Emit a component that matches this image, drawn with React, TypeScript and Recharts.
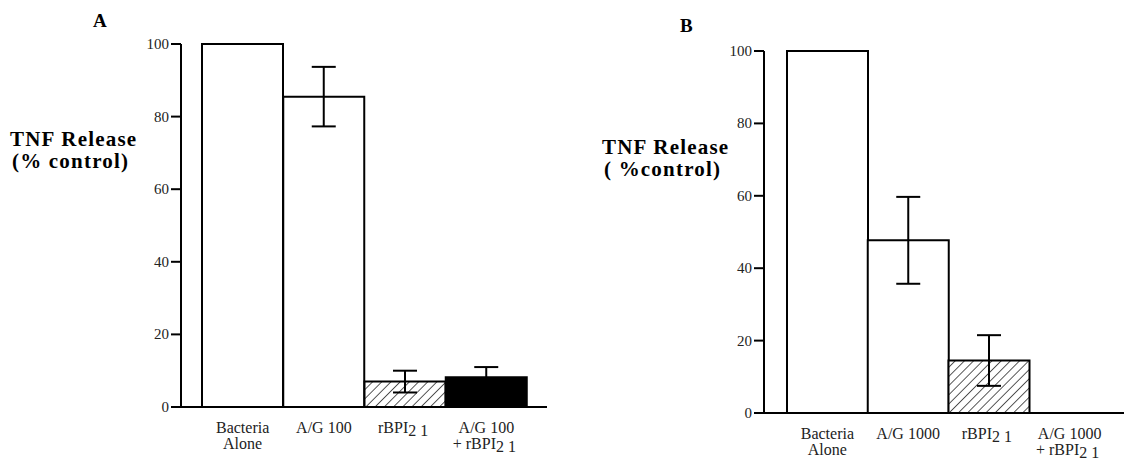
import { BarChart, Bar, XAxis, YAxis, ErrorBar, Cell } from "recharts";

// panel A
const categoriesA = ["Bacteria\nAlone", "A/G 100", "rBPI_21", "A/G 100\n+ rBPI_21"];
const valuesA = [100, 85.5, 7, 8.2];
const errorsA = [0, 8.2, 3, 2.8];

// panel B
const categoriesB = ["Bacteria\nAlone", "A/G 1000", "rBPI_21", "A/G 1000\n+ rBPI_21"];
const valuesB = [100, 47.7, 14.5, 0];
const errorsB = [0, 12, 7, 0];

const yTicks = [0, 20, 40, 60, 80, 100];

const SERIF = "Liberation Serif, Times New Roman, serif";

function CatTick({ x, y, payload }: any) {
  const lines = String(payload.value).split("\n");
  return (
    <g>
      {lines.map((line, i) => {
        const [main, sub] = line.split("_");
        return (
          <text
            key={i}
            x={x}
            y={y + 18 + i * 16}
            textAnchor="middle"
            style={{ fontFamily: SERIF, fontSize: 16 }}
            fill="#222"
          >
            {main}
            {sub && (
              <tspan dy={3} letterSpacing={4}>
                {sub}
              </tspan>
            )}
          </text>
        );
      })}
    </g>
  );
}

function NumTick({ x, y, payload }: any) {
  return (
    <text x={x} y={y} dy={5} textAnchor="end" style={{ fontFamily: SERIF, fontSize: 15 }} fill="#222">
      {payload.value}
    </text>
  );
}

function Panel({ id, categories, values, errors, width, margin, padding, letter, letterX, letterY, sub, labelX, labelY }: any) {
  const data = categories.map((c: string, i: number) => ({
    name: c,
    value: values[i],
    err: errors[i],
  }));
  const fills = ["#fff", "#fff", `url(#hatch${id})`, "#000"];
  const bold = { fontFamily: SERIF, fontWeight: "bold" as const, fontSize: 21, letterSpacing: 1.2 };
  return (
    <BarChart width={width} height={462} data={data} margin={margin} barCategoryGap={0}>
      <defs>
        <pattern id={`hatch${id}`} patternUnits="userSpaceOnUse" width={6.5} height={6.5} patternTransform="rotate(45)">
          <rect width={6.5} height={6.5} fill="#fff" />
          <line x1={0} y1={0} x2={0} y2={6.5} stroke="#000" strokeWidth={1.3} />
        </pattern>
      </defs>
      <XAxis
        dataKey="name"
        interval={0}
        tickLine={false}
        axisLine={{ stroke: "#000", strokeWidth: 2 }}
        padding={padding}
        height={48}
        tick={<CatTick />}
      />
      <YAxis
        domain={[0, 100]}
        ticks={yTicks}
        width={60}
        tickSize={10}
        tickLine={{ stroke: "#000", strokeWidth: 2 }}
        axisLine={{ stroke: "#000", strokeWidth: 2 }}
        tick={<NumTick />}
      />
      <Bar dataKey="value" stroke="#000" strokeWidth={2} isAnimationActive={false}>
        {data.map((_: any, i: number) => (
          <Cell key={i} fill={fills[i]} />
        ))}
        <ErrorBar dataKey="err" direction="y" width={12} stroke="#000" strokeWidth={2} />
      </Bar>
      <text x={letterX} y={letterY} style={{ fontFamily: SERIF, fontWeight: "bold", fontSize: 19 }} fill="#000">
        {letter}
      </text>
      <text x={labelX} y={labelY} style={bold} fill="#000">
        TNF Release
      </text>
      <text x={labelX + 2} y={labelY + 22} style={bold} fill="#000">
        {sub}
      </text>
    </BarChart>
  );
}

export default function App() {
  return (
    <div style={{ position: "absolute", left: 0, top: 0, width: 1124, height: 462, background: "#fff", overflow: "hidden" }}>
      <div style={{ position: "absolute", left: 0, top: 0 }}>
        <Panel
          id="A"
          categories={categoriesA}
          values={valuesA}
          errors={errorsA}
          width={560}
          margin={{ top: 44, right: 13, bottom: 7, left: 121 }}
          padding={{ left: 21, right: 20 }}
          letter="A"
          letterX={93}
          letterY={27}
          sub="(% control)"
          labelX={10}
          labelY={146}
        />
      </div>
      <div style={{ position: "absolute", left: 580, top: 0 }}>
        <Panel
          id="B"
          categories={categoriesB}
          values={valuesB}
          errors={errorsB}
          width={544}
          margin={{ top: 51, right: 0, bottom: 1, left: 124 }}
          padding={{ left: 23, right: 14 }}
          letter="B"
          letterX={100}
          letterY={32}
          sub="( %control)"
          labelX={22}
          labelY={154}
        />
      </div>
    </div>
  );
}
